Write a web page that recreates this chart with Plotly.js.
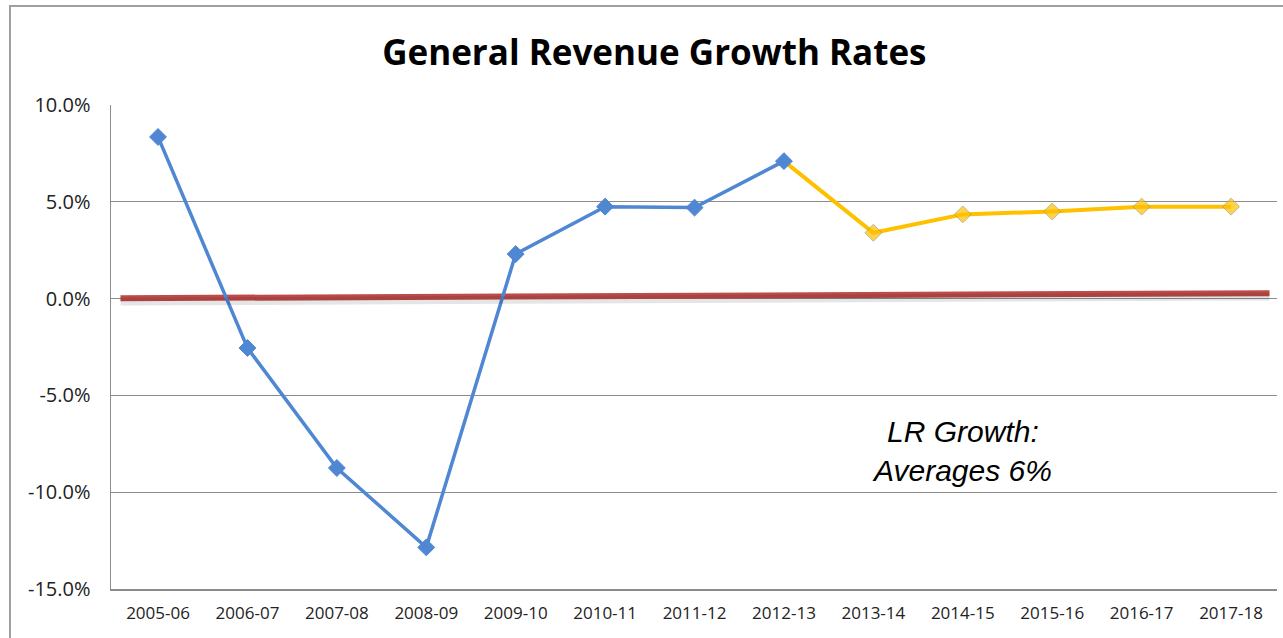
<!DOCTYPE html>
<html>
<head>
<meta charset="utf-8">
<script src="https://cdn.plot.ly/plotly-3.0.1.min.js"></script>
<style>
  html, body { margin: 0; padding: 0; background: #fff; }
  #wrap { position: relative; width: 1283px; height: 638px; overflow: hidden; }
  #chart { position: absolute; left: 0; top: 0; width: 1283px; height: 638px; }
  #frame { position: absolute; left: 9px; top: 5px; width: 1300px; height: 700px;
           border-left: 2px solid #a0a0a0; border-top: 2px solid #a0a0a0; pointer-events: none; }
</style>
</head>
<body>
<div id="wrap">
  <div id="chart"></div>
  <div id="frame"></div>
</div>
<script>
// Fiscal years (category tick labels)
const categories = ["2005-06","2006-07","2007-08","2008-09","2009-10","2010-11","2011-12",
                    "2012-13","2013-14","2014-15","2015-16","2016-17","2017-18"];
// Y-axis ticks (%) and their labels
const yTickValues = [-15, -10, -5, 0, 5, 10];
const yTickLabels = ["-15.0%", "-10.0%", "-5.0%", "0.0%", "5.0%", "10.0%"];
// Actual growth rates (%), 2005-06 .. 2012-13
const actualIdx = [0,1,2,3,4,5,6,7];
const actualValues = [8.35, -2.55, -8.75, -12.85, 2.3, 4.75, 4.7, 7.1];
// Projected growth rates (%), 2012-13 .. 2017-18 (starts at last actual point)
const projIdx = [7,8,9,10,11,12];
const projValues = [7.1, 3.4, 4.35, 4.5, 4.75, 4.75];
// Trend line (%), spans slightly beyond first/last category
const trendIdx = [-0.42, 12.43];
const trendValues = [0.02, 0.28];
const annotationText = "LR Growth:<br>Averages 6%";

const tickIdx = categories.map((c, i) => i);

const blue = "#4f87d2";
const gold = "#ffc000";
const red = "#be4b48";

const traces = [
  { // soft shadow of trend line
    x: trendIdx, y: trendValues, xaxis: "x", yaxis: "y2",
    mode: "lines", line: { color: "rgba(0,0,0,0.10)", width: 8 },
    hoverinfo: "skip", showlegend: false
  },
  {
    x: trendIdx, y: trendValues, mode: "lines",
    line: { color: red, width: 6 }, showlegend: false
  },
  {
    x: projIdx, y: projValues, mode: "lines+markers",
    line: { color: gold, width: 4 },
    marker: { symbol: "diamond", size: projIdx.map((v, i) => i === 0 ? 0 : 13),
              color: gold, line: { color: "#a89a62", width: 1 } },
    showlegend: false
  },
  {
    x: actualIdx, y: actualValues, mode: "lines+markers",
    line: { color: blue, width: 3.5 },
    marker: { symbol: "diamond", size: 13, color: blue, line: { color: blue, width: 1 } },
    showlegend: false
  }
];

const layout = {
  width: 1283, height: 638,
  margin: { l: 111, r: 6, t: 105, b: 49 },
  paper_bgcolor: "rgba(255,255,255,0)",
  plot_bgcolor: "#fff",
  showlegend: false,
  title: {
    text: "<b>General Revenue Growth Rates</b>",
    font: { family: "Open Sans", size: 35, color: "#000" },
    x: 0.51, xref: "container", xanchor: "center",
    y: 0.918, yref: "container", yanchor: "middle"
  },
  xaxis: {
    range: [-0.526, 12.514],
    tickmode: "array", tickvals: tickIdx, ticktext: categories,
    showgrid: false, zeroline: false,
    showline: true, linecolor: "#8c8c8c", linewidth: 1.5,
    ticks: "", ticklabelstandoff: 8,
    tickfont: { family: "Open Sans", size: 17, color: "#222" }
  },
  yaxis: {
    range: [-15, 10],
    tickmode: "array", tickvals: yTickValues, ticktext: yTickLabels,
    showgrid: true, gridcolor: "#8c8c8c", gridwidth: 1,
    zeroline: false,
    showline: true, linecolor: "#8c8c8c", linewidth: 1.5,
    ticks: "", ticklabelstandoff: 15,
    tickfont: { family: "Open Sans", size: 20, color: "#222" }
  },
  yaxis2: {
    overlaying: "y", range: [-14.83, 10.17], visible: false
  },
  annotations: [{
    text: annotationText, xref: "paper", yref: "paper",
    x: 0.73, y: 0.286, xanchor: "center", yanchor: "middle",
    showarrow: false, align: "center",
    font: { family: "Liberation Sans", size: 30, color: "#000", style: "italic" }
  }]
};

Plotly.newPlot("chart", traces, layout, { displayModeBar: false, staticPlot: true });
</script>
</body>
</html>
